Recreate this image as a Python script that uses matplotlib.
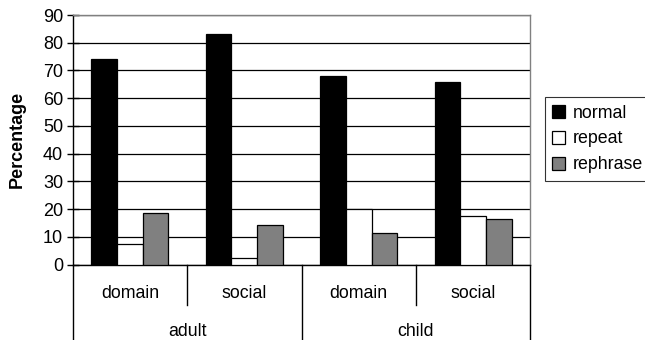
import matplotlib
matplotlib.use("Agg")
import matplotlib.pyplot as plt
from matplotlib.patches import Patch
import numpy as np

plt.rcParams['font.family'] = ['Liberation Sans', 'DejaVu Sans']

groups = ["adult", "child"]
contexts = ["domain", "social", "domain", "social"]
series = ["normal", "repeat", "rephrase"]
normal = [74.2, 83.1, 68.0, 65.8]
repeat = [7.4, 2.5, 20.1, 17.6]
rephrase = [18.6, 14.2, 11.4, 16.5]
colors = ["#000000", "#ffffff", "#808080"]
yticks = [0, 10, 20, 30, 40, 50, 60, 70, 80, 90]

W, H = 645, 340
fig = plt.figure(figsize=(W / 100, H / 100), dpi=100)
ax_left, ax_right, ax_top, ax_bot = 72.7, 530.3, 15, 264.5
ax = fig.add_axes([ax_left / W, 1 - ax_bot / H,
                   (ax_right - ax_left) / W, (ax_bot - ax_top) / H])

centers = np.arange(len(contexts)) + 0.5
bw = 0.224
for i, (vals, c) in enumerate(zip([normal, repeat, rephrase], colors)):
    ax.bar(centers + (i - 1) * bw, vals, width=bw, color=c,
           edgecolor="black", linewidth=0.9, zorder=3)

ax.set_xlim(0, len(contexts))
ax.set_ylim(0, 90)
ax.set_yticks(yticks)
ax.set_yticklabels([str(t) for t in yticks], fontsize=13)
ax.tick_params(axis='y', direction='inout', length=8, width=1, pad=3)
ax.set_xticks([])
ax.yaxis.grid(True, color="black", linewidth=0.9, zorder=0)
ax.set_axisbelow(True)
for s in ["top", "right"]:
    ax.spines[s].set_color("#808080")
    ax.spines[s].set_linewidth(1)
ax.spines["left"].set_linewidth(1)
ax.spines["bottom"].set_linewidth(1)
ax.set_ylabel("Percentage", fontsize=13, fontweight="bold")
ax.yaxis.set_label_coords((26 - ax_left) / (ax_right - ax_left), 0.5)

# Two-level category axis below the plot
trans = ax.get_xaxis_transform()
ax_h_px = ax_bot - ax_top
def y_px(py):
    # pixel row below the x-axis converted to axes fraction
    return -(py - ax_bot) / ax_h_px

for x in range(len(contexts) + 1):
    bottom = 340 if x % 2 == 0 else 305
    ax.plot([x, x], [0, y_px(bottom)], color="black", lw=1,
            transform=trans, clip_on=False)
for c, lab in zip(centers, contexts):
    ax.text(c, y_px(293), lab, transform=trans, ha="center", va="center",
            fontsize=12.8)
for g, lab in enumerate(groups):
    ax.text(2 * g + 1, y_px(331), lab, transform=trans, ha="center",
            va="center", fontsize=12.8)

handles = [Patch(facecolor=c, edgecolor="black", linewidth=0.9) for c in colors]
leg = fig.legend(handles, series, loc="upper left",
                 bbox_to_anchor=(545 / W, 1 - 97.5 / H), fontsize=12.8,
                 frameon=True, fancybox=False, handlelength=0.75,
                 handleheight=0.75, handletextpad=0.4, borderpad=0.4,
                 labelspacing=0.5, borderaxespad=0)
leg.get_frame().set_edgecolor("black")
leg.get_frame().set_linewidth(0.8)

fig.savefig("out.png", dpi=100)
